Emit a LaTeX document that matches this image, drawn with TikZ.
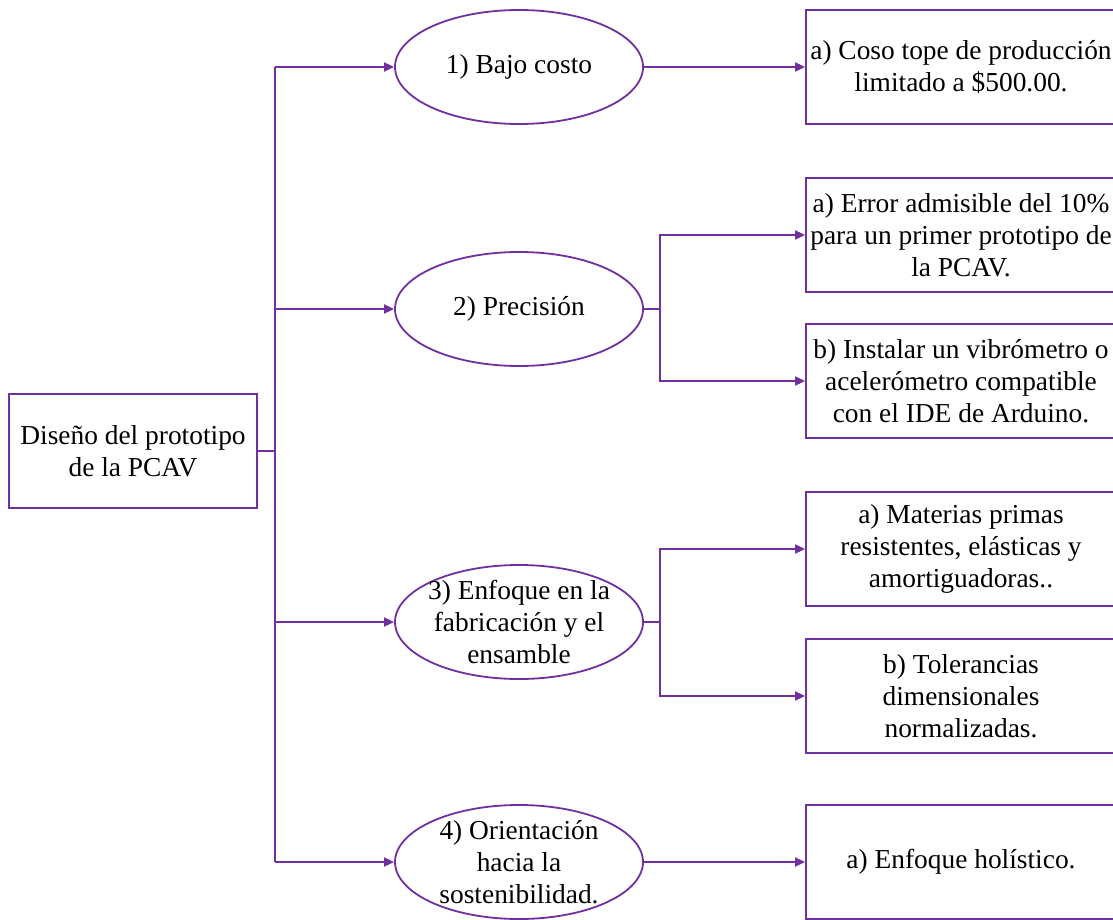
\documentclass[tikz,border=0pt]{standalone}
\usepackage{fontspec}
\setmainfont{Liberation Serif}
\usetikzlibrary{arrows.meta,shapes.geometric}
\definecolor{plum}{HTML}{7030A0}
\begin{document}
\begin{tikzpicture}[x=0.5pt,y=-0.5pt,
  every node/.style={font=\fontsize{13.7}{16}\selectfont, text=black},
  link/.style={draw=plum, line width=0.9pt},
  arr/.style={link, -{Triangle[length=5pt,width=4.5pt]}},
  rootbox/.style={draw=plum, line width=0.9pt, minimum width=124pt, minimum height=57pt, align=center, inner sep=0pt},
  goal/.style={ellipse, draw=plum, line width=0.9pt, minimum width=124pt, minimum height=57pt, inner sep=0pt},
  gtext/.style={align=center, inner sep=0pt},
  leaf/.style={draw=plum, line width=0.9pt, minimum width=155pt, minimum height=57pt, align=center, inner sep=0pt},
]
\useasboundingbox (0,0) rectangle (1113,920);
\fill[white] (0,0) rectangle (1113,920);

% root
\node[rootbox] (root) at (133,451) {Diseño del prototipo\\de la PCAV};

% design goals
\node[goal] (g1) at (519,67) {};
\node[gtext] (g1t) at (g1) {1) Bajo costo};
\node[goal] (g2) at (519,309) {};
\node[gtext] (g2t) at (g2) {2) Precisión};
\node[goal] (g3) at (519,622) {};
\node[gtext] (g3t) at (g3) {3) Enfoque en la\\fabricación y el\\ensamble};
\node[goal] (g4) at (519,862) {};
\node[gtext] (g4t) at (g4) {4) Orientación\\hacia la\\sostenibilidad.};

% requirements
\node[leaf] (l1) at (961,67) {a) Coso tope de producción\\limitado a \$500.00.};
\node[leaf] (l2a) at (961,235) {a) Error admisible del 10\%\\para un primer prototipo de\\la PCAV.};
\node[leaf] (l2b) at (961,381) {b) Instalar un vibrómetro o\\acelerómetro compatible\\con el IDE de Arduino.};
\node[leaf] (l3a) at (961,549) {a) Materias primas\\resistentes, elásticas y\\amortiguadoras..};
\node[leaf] (l3b) at (961,696) {b) Tolerancias\\dimensionales\\normalizadas.};
\node[leaf] (l4) at (961,862) {a) Enfoque holístico.};

% trunk
\coordinate (trunk) at (275,451);
\coordinate (t1) at (275,67);
\coordinate (t4) at (275,862);
\draw[link] (root.east) -- (trunk);
\draw[link] (t1) -- (t4);
\draw[arr] (t1) -- (g1.west);
\draw[arr] (t1 |- g2.west) -- (g2.west);
\draw[arr] (t1 |- g3.west) -- (g3.west);
\draw[arr] (t4) -- (g4.west);

% branches
\coordinate (s2) at (660,309);
\coordinate (s3) at (660,622);
\draw[arr] (g1.east) -- (l1.west);
\draw[link] (g2.east) -- (s2);
\draw[arr] (s2) |- (l2a.west);
\draw[arr] (s2) |- (l2b.west);
\draw[link] (g3.east) -- (s3);
\draw[arr] (s3) |- (l3a.west);
\draw[arr] (s3) |- (l3b.west);
\draw[arr] (g4.east) -- (l4.west);
\end{tikzpicture}
\end{document}
